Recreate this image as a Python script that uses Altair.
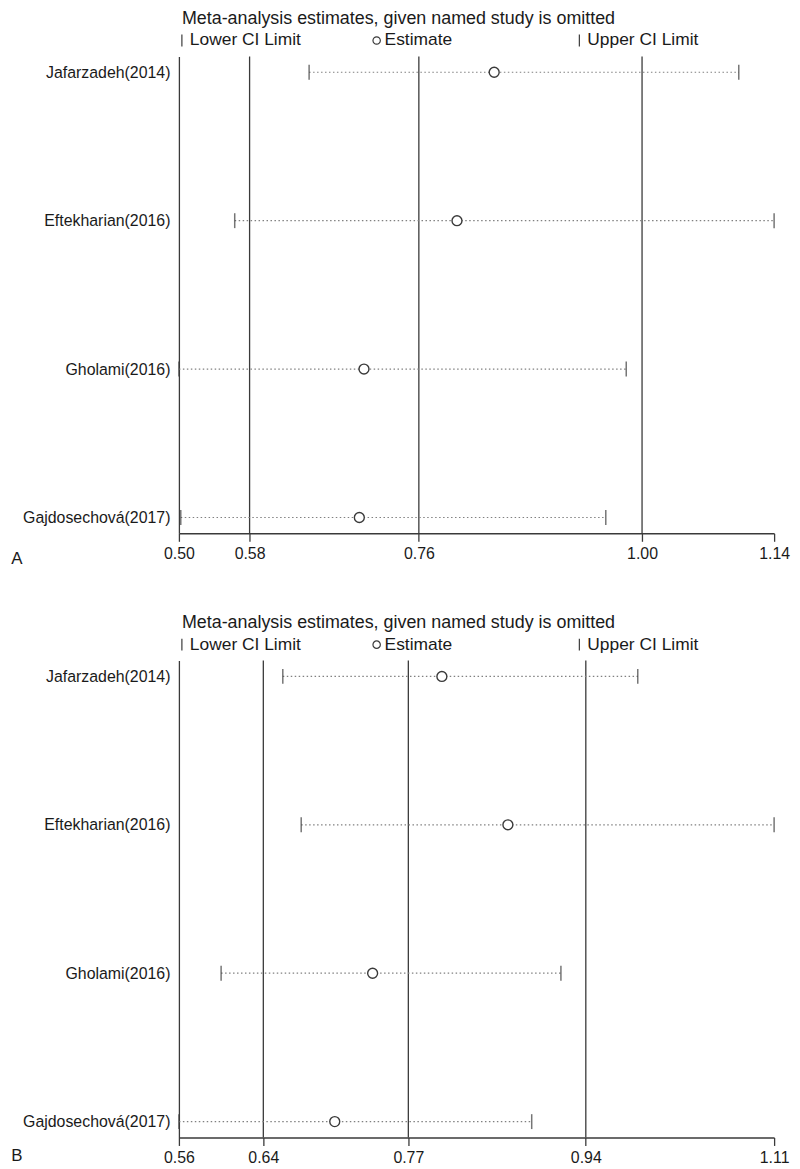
import altair as alt
import pandas as pd

studies = ["Jafarzadeh(2014)", "Eftekharian(2016)", "Gholami(2016)", "Gajdosechová(2017)"]

# Panel A
a_lower = [0.640, 0.560, 0.500, 0.502]
a_est = [0.839, 0.799, 0.699, 0.694]
a_upper = [1.102, 1.140, 0.981, 0.959]
a_overall = [0.576, 0.758, 0.998]
a_ticks = [0.50, 0.576, 0.758, 0.998, 1.14]
a_domain = [0.50, 1.14]

# Panel B
b_lower = [0.656, 0.673, 0.599, 0.560]
b_est = [0.803, 0.864, 0.739, 0.704]
b_upper = [0.984, 1.110, 0.913, 0.886]
b_overall = [0.638, 0.772, 0.936]
b_ticks = [0.56, 0.638, 0.772, 0.936, 1.11]
b_domain = [0.56, 1.11]

title_text = "Meta-analysis estimates, given named study is omitted"
FONT = "Liberation Sans"
TXT = "#1a1a1a"
LINE = "#3a3a3a"
W, H = 599, 480
TFS = 17.5


def panel(lower, est, upper, overall, ticks, domain, letter, letter_dy):
    df = pd.DataFrame({"study": studies, "lower": lower, "est": est, "upper": upper})
    xscale = alt.Scale(domain=domain, nice=False, zero=False)
    xaxis = alt.Axis(values=ticks, format=".2f", title=None, grid=False, tickSize=8,
                     tickColor=LINE, domainColor=LINE, domainWidth=1.5, tickWidth=1.3,
                     labelFontSize=16, labelFont=FONT, labelColor=TXT, labelFlush=False,
                     labelPadding=4, labelOverlap=False)
    yenc = alt.Y("study:N", sort=studies,
                 scale=alt.Scale(type="point", padding=0.107),
                 axis=alt.Axis(title=None, ticks=False, domainColor=LINE, domainWidth=1.3,
                               labelFontSize=16, labelFont=FONT, labelColor=TXT,
                               labelPadding=9, grid=False))
    base = alt.Chart(df)
    ref = alt.Chart(pd.DataFrame({"v": overall})).mark_rule(color=LINE, strokeWidth=1.3).encode(
        x=alt.X("v:Q", scale=xscale, axis=xaxis))
    ci = base.mark_rule(strokeDash=[1.5, 2.5], color="#808080", strokeWidth=1.2).encode(
        x=alt.X("lower:Q", scale=xscale, axis=xaxis), x2="upper:Q", y=yenc)
    lo = base.mark_tick(color=LINE, thickness=1.5, size=15).encode(
        x=alt.X("lower:Q", scale=xscale), y=yenc)
    up = base.mark_tick(color=LINE, thickness=1.5, size=15).encode(
        x=alt.X("upper:Q", scale=xscale), y=yenc)
    pt = base.mark_point(shape="circle", filled=True, fill="white", stroke=LINE,
                         strokeWidth=1.4, size=100, opacity=1).encode(
        x=alt.X("est:Q", scale=xscale), y=yenc)

    one = pd.DataFrame({"k": [0]})
    ttl = alt.Chart(one).mark_text(text=title_text, align="left", baseline="middle",
                                   fontSize=18, font=FONT, color=TXT).encode(
        x=alt.value(3), y=alt.value(-38))
    leg_lo_bar = alt.Chart(one).mark_rule(color=LINE, strokeWidth=1.2).encode(
        x=alt.value(3), y=alt.value(-22), y2=alt.value(-10))
    leg_lo = alt.Chart(one).mark_text(text="Lower CI Limit", align="left", baseline="middle",
                                      fontSize=TFS, font=FONT, color=TXT).encode(
        x=alt.value(11), y=alt.value(-16))
    leg_est_pt = alt.Chart(one).mark_point(shape="circle", filled=False, color=LINE,
                                           strokeWidth=1.2, size=55, opacity=1).encode(
        x=alt.value(199), y=alt.value(-16))
    leg_est = alt.Chart(one).mark_text(text="Estimate", align="left", baseline="middle",
                                       fontSize=TFS, font=FONT, color=TXT).encode(
        x=alt.value(207), y=alt.value(-16))
    leg_up_bar = alt.Chart(one).mark_rule(color=LINE, strokeWidth=1.2).encode(
        x=alt.value(403), y=alt.value(-22), y2=alt.value(-10))
    leg_up = alt.Chart(one).mark_text(text="Upper CI Limit", align="left", baseline="middle",
                                      fontSize=TFS, font=FONT, color=TXT).encode(
        x=alt.value(411), y=alt.value(-16))
    lab = alt.Chart(one).mark_text(text=letter, align="center", baseline="middle",
                                   fontSize=17, font=FONT, color=TXT).encode(
        x=alt.value(-163), y=alt.value(H + letter_dy))

    return alt.layer(ref, ci, lo, up, pt, ttl, leg_lo_bar, leg_lo, leg_est_pt, leg_est,
                     leg_up_bar, leg_up, lab).properties(
        width=W, height=H, view=alt.ViewBackground(stroke="transparent", strokeWidth=0))


pa = panel(a_lower, a_est, a_upper, a_overall, a_ticks, a_domain, "A", 26)
pb = panel(b_lower, b_est, b_upper, b_overall, b_ticks, b_domain, "B", 19)

chart = alt.vconcat(pa, pb, spacing=47).properties(
    padding={"left": 3, "top": -2, "right": 2, "bottom": 0}
).configure_view(stroke="transparent", strokeWidth=0).configure(background="white")

chart.save("out.html", embed_options={"renderer": "svg", "actions": False})
